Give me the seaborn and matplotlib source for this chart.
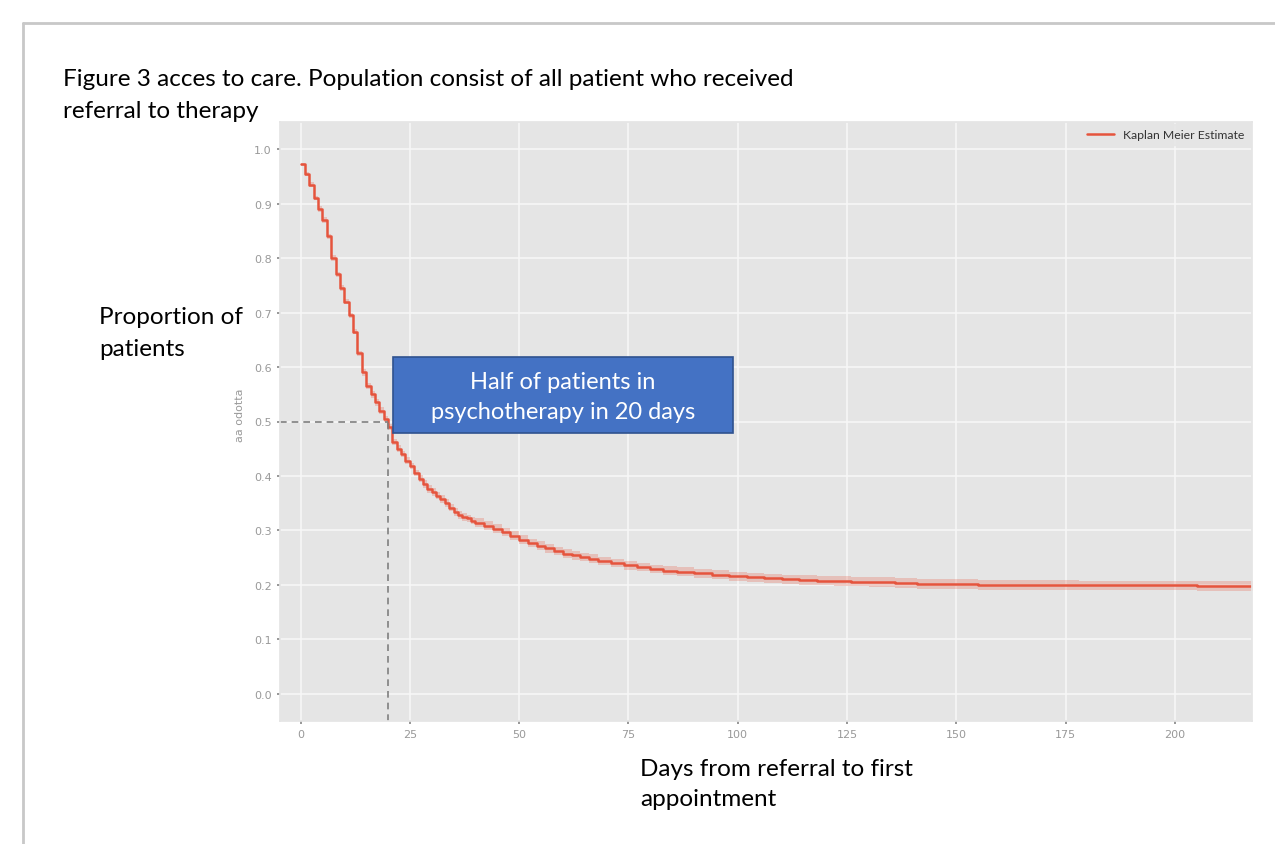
import numpy as np
import pandas as pd
import matplotlib
matplotlib.use("Agg")
import matplotlib.pyplot as plt
import seaborn as sns
from matplotlib.patches import Rectangle
from matplotlib.lines import Line2D

# ---------------- data ----------------
days = [0, 1, 2, 3, 4, 5, 6, 7, 8, 9, 10, 11, 12, 13, 14, 15, 16, 17, 18, 19,
        20, 21, 22, 23, 24, 25, 26, 27, 28, 29, 30, 31, 32, 33, 34, 35, 36, 37,
        38, 39, 40, 42, 44, 46, 48, 50, 52, 54, 56, 58, 60, 62, 64, 66, 68, 71,
        74, 77, 80, 83, 86, 90, 94, 98, 102, 106, 110, 114, 118, 122, 126, 130,
        136, 141, 148, 155, 165, 178, 190, 205, 218]
survival = [0.972, 0.955, 0.935, 0.910, 0.890, 0.870, 0.840, 0.800, 0.770,
            0.745, 0.720, 0.695, 0.665, 0.625, 0.590, 0.565, 0.550, 0.535,
            0.520, 0.505, 0.490, 0.462, 0.450, 0.440, 0.428, 0.418, 0.405,
            0.395, 0.385, 0.376, 0.370, 0.364, 0.358, 0.350, 0.342, 0.334,
            0.328, 0.325, 0.322, 0.318, 0.314, 0.309, 0.303, 0.297, 0.290,
            0.283, 0.277, 0.272, 0.267, 0.262, 0.257, 0.254, 0.251, 0.248,
            0.244, 0.240, 0.236, 0.233, 0.229, 0.226, 0.224, 0.221, 0.219,
            0.216, 0.214, 0.212, 0.210, 0.209, 0.208, 0.207, 0.206, 0.205,
            0.203, 0.202, 0.201, 0.200, 0.200, 0.199, 0.199, 0.198, 0.196]
ci_halfwidth = [0.003, 0.004, 0.004, 0.004, 0.005, 0.005, 0.005, 0.005, 0.005,
                0.005, 0.005, 0.005, 0.005, 0.005, 0.006, 0.006, 0.006, 0.006,
                0.006, 0.006, 0.006, 0.006, 0.006, 0.006, 0.006, 0.006, 0.006,
                0.007, 0.007, 0.007, 0.007, 0.007, 0.007, 0.007, 0.007, 0.007,
                0.007, 0.007, 0.007, 0.007, 0.008, 0.008, 0.008, 0.008, 0.008,
                0.008, 0.008, 0.008, 0.008, 0.008, 0.008, 0.008, 0.008, 0.008,
                0.008, 0.008, 0.008, 0.008, 0.008, 0.008, 0.008, 0.008, 0.008,
                0.008, 0.008, 0.008, 0.008, 0.009, 0.009, 0.009, 0.009, 0.009,
                0.009, 0.009, 0.009, 0.009, 0.009, 0.009, 0.009, 0.009, 0.009]
x_ticks = [0, 25, 50, 75, 100, 125, 150, 175, 200]
y_ticks = [0.0, 0.1, 0.2, 0.3, 0.4, 0.5, 0.6, 0.7, 0.8, 0.9, 1.0]
median_day = 20
median_level = 0.5

df = pd.DataFrame({"days": days, "survival": survival, "hw": ci_halfwidth})

# ---------------- style ----------------
sns.set_theme(style="darkgrid", rc={
    "axes.facecolor": "#E5E5E5",
    "grid.color": "#f7f7f7",
    "grid.linewidth": 1.2,
    "axes.edgecolor": "#E5E5E5",
    "xtick.color": "#8a8a8a",
    "ytick.color": "#8a8a8a",
    "xtick.bottom": True,
    "ytick.left": True,
    "xtick.major.size": 2.5,
    "ytick.major.size": 2.5,
})
plt.rcParams["font.family"] = ["Lato", "DejaVu Sans"]

fig = plt.figure(figsize=(12.75, 8.45), dpi=100)
fig.patch.set_facecolor("white")
ax = fig.add_axes([280 / 1275, 1 - 722 / 845, (1252 - 280) / 1275, (722 - 123) / 845])

red = "#E5543D"
ax.fill_between(df["days"], df["survival"] - df["hw"], df["survival"] + df["hw"],
                step="post", color=red, alpha=0.25, linewidth=0)
sns.lineplot(data=df, x="days", y="survival", ax=ax, color=red, linewidth=1.8,
             drawstyle="steps-post", errorbar=None, label="Kaplan Meier Estimate")

xlo, xhi = -4.7, 217.6
ylo, yhi = -0.05, 1.05
ax.set_xlim(xlo, xhi)
ax.set_ylim(ylo, yhi)

# median guide lines
ax.plot([xlo, median_day], [median_level, median_level], ls=(0, (4, 3)),
        color="#7f7f7f", lw=1.2)
ax.plot([median_day, median_day], [ylo, median_level], ls=(0, (4, 3)),
        color="#7f7f7f", lw=1.2)

ax.set_xticks(x_ticks)
ax.set_yticks(y_ticks)
ax.set_xticklabels([str(t) for t in x_ticks], fontsize=8, color="#999999",
                   family="DejaVu Sans")
ax.set_yticklabels([f"{t:.1f}" for t in y_ticks], fontsize=8, color="#999999",
                   family="DejaVu Sans")
ax.set_xlabel("")
ax.set_ylabel("")

leg = ax.legend(loc="upper right", fontsize=8.8, frameon=True,
                facecolor="#E5E5E5", edgecolor="#E5E5E5", borderaxespad=0.2,
                handlelength=2.2)
for t in leg.get_texts():
    t.set_color("#333333")

# ---------------- slide decorations ----------------
fig.add_artist(Line2D([23 / 1275, 1.0], [1 - 24 / 845, 1 - 24 / 845],
                      transform=fig.transFigure, color="#c8c8c8", lw=2))
fig.add_artist(Line2D([23 / 1275, 23 / 1275], [0.0, 1 - 24 / 845],
                      transform=fig.transFigure, color="#c8c8c8", lw=2))

fs = 17.5
fig.text(63 / 1275, 1 - 80 / 845,
         "Figure 3 acces to care. Population consist of all patient who received",
         fontsize=fs, color="black", va="center", ha="left")
fig.text(63 / 1275, 1 - 112 / 845, "referral to therapy",
         fontsize=fs, color="black", va="center", ha="left")

fig.text(99 / 1275, 1 - 317 / 845, "Proportion of", fontsize=fs,
         color="black", va="center", ha="left")
fig.text(99 / 1275, 1 - 350 / 845, "patients", fontsize=fs,
         color="black", va="center", ha="left")

fig.text(640 / 1275, 1 - 770 / 845, "Days from referral to first", fontsize=fs,
         color="black", va="center", ha="left")
fig.text(640 / 1275, 1 - 800 / 845, "appointment", fontsize=fs,
         color="black", va="center", ha="left")

fig.text(240 / 1275, 1 - 415 / 845, "aa odotta", fontsize=8, color="#999999",
         rotation=90, va="center", ha="center", family="DejaVu Sans")

# annotation box
fig.add_artist(Rectangle((393 / 1275, 1 - 434 / 845), (733 - 393) / 1275,
                         (434 - 358) / 845, transform=fig.transFigure,
                         facecolor="#4472C4", edgecolor="#2F528F", lw=1.2))
fig.text(563 / 1275, 1 - 383 / 845, "Half of patients in", fontsize=17,
         color="white", va="center", ha="center")
fig.text(563 / 1275, 1 - 413 / 845, "psychotherapy in 20 days", fontsize=17,
         color="white", va="center", ha="center")

fig.savefig("out.png", dpi=100, facecolor="white")
